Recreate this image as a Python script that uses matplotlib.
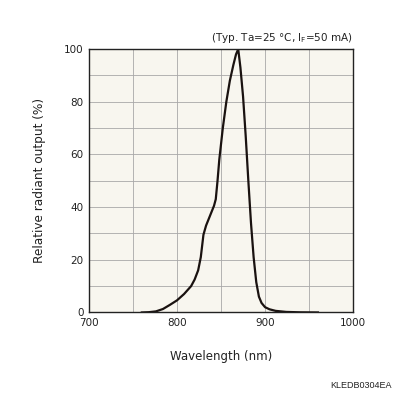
import numpy as np
import matplotlib.pyplot as plt

# spectrum
wavelength = [760, 768, 776, 784, 792, 800, 808, 816, 820, 824, 827, 830, 833, 836,
              839, 842, 844, 846, 848, 852, 856, 860, 864, 867, 869.5, 872, 875,
              878, 881, 884, 887, 890, 893, 896, 900, 905, 912, 924, 940, 960]
output = [0, 0.1, 0.4, 1.3, 2.9, 4.6, 7.0, 10.0, 12.5, 16.0, 21.0, 29.5, 33.0, 35.5,
          38.0, 40.5, 43.0, 50.0, 58.0, 70.0, 80.0, 88.0, 94.0, 98.0, 100, 93.0, 82.0,
          67.0, 50.0, 34.0, 21.0, 11.5, 6.0, 3.6, 2.0, 1.2, 0.6, 0.2, 0.05, 0]

xticks = [700, 800, 900, 1000]
yticks = [0, 20, 40, 60, 80, 100]

fig = plt.figure(figsize=(3.96, 3.96), dpi=100)
ax = fig.add_axes([0.2247, 0.211, 0.667, 0.665])
ax.set_facecolor('#f8f6ef')

ax.plot(wavelength, output, color='#1a1210', lw=1.6, solid_joinstyle='round')

ax.set_xlim(700, 1000)
ax.set_ylim(0, 100)
ax.set_xticks(xticks)
ax.set_yticks(yticks)
ax.set_xticks(np.arange(700, 1001, 50), minor=True)
ax.set_yticks(np.arange(0, 101, 10), minor=True)
ax.grid(True, which='both', color='#a8a8a8', lw=0.6)
ax.set_axisbelow(True)
ax.tick_params(which='both', length=0, labelsize=7.5, colors='#222222')
ax.tick_params(axis='x', pad=4)
ax.tick_params(axis='y', pad=4)
for s in ax.spines.values():
    s.set_color('#222222')
    s.set_linewidth(1.0)

ax.set_xlabel('Wavelength (nm)', fontsize=8.5, labelpad=16, color='#222222')
ax.set_ylabel('Relative radiant output (%)', fontsize=8.7, labelpad=13, color='#222222')

fig.text(0.891, 0.887, r'(Typ. Ta=25 °C, I$_\mathrm{F}$=50 mA)', ha='right', va='bottom',
         fontsize=7.5, color='#222222')
fig.text(0.99, 0.015, 'KLEDB0304EA', ha='right', va='bottom', fontsize=6.5,
         family='Liberation Sans', color='#222222')

fig.savefig('out.png', dpi=100)
